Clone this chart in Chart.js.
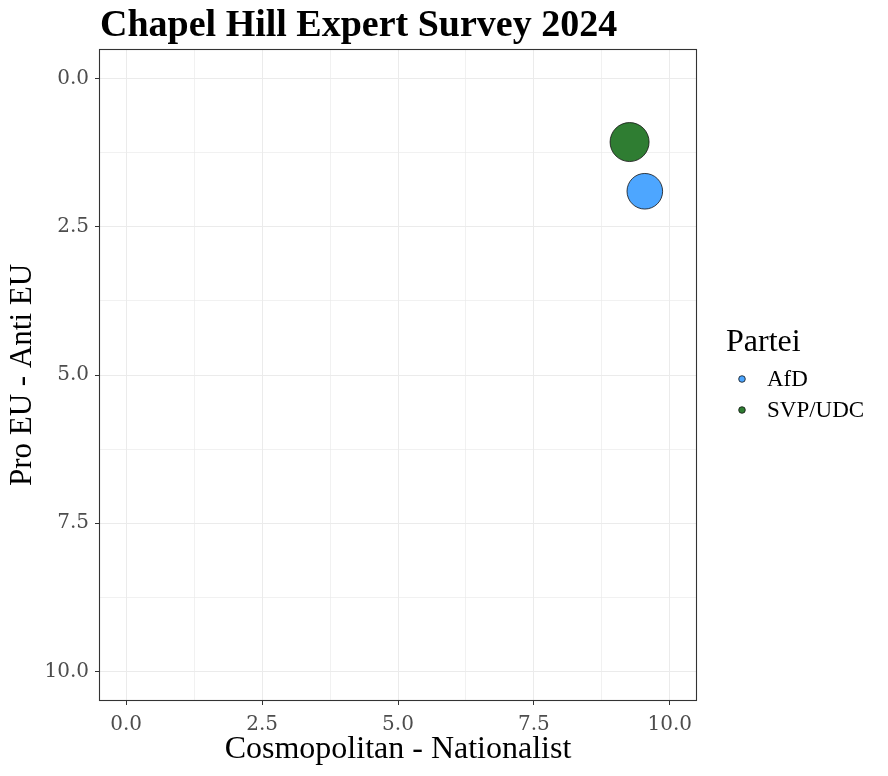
<!DOCTYPE html>
<html>
<head>
<meta charset="utf-8">
<script src="https://cdn.jsdelivr.net/npm/chart.js@4"></script>
<style>
  html, body { margin: 0; padding: 0; background: #fff; }
  #wrap { width: 888px; height: 776px; position: relative; }
</style>
</head>
<body>
<div id="wrap"><canvas id="chart" width="888" height="776"></canvas></div>
<script>
  // data
  const parteien = ["AfD", "SVP/UDC"];
  const nationalist = [9.54, 9.26];   // x: Cosmopolitan - Nationalist
  const antiEU = [1.9, 1.07];         // y: Pro EU - Anti EU
  const tickWerte = [0, 2.5, 5, 7.5, 10];
  const minorWerte = [1.25, 3.75, 6.25, 8.75];

  const farben = ["#4da6ff", "#2f7d32"];
  const radien = [17.8, 19.5];

  const SERIF = "'Liberation Serif', serif";
  const TICKFONT = "'DejaVu Serif', serif";

  function alleTicks(scale){
    const vals = tickWerte.concat(minorWerte).sort((a, b) => a - b);
    scale.ticks = vals.map(v => ({ value: v, major: tickWerte.includes(v) }));
  }

  function istMajor(ctx){
    return ctx.tick && tickWerte.includes(ctx.tick.value);
  }

  const datasets = parteien.map((p, i) => ({
    label: p,
    data: [{ x: nationalist[i], y: antiEU[i] }],
    backgroundColor: farben[i],
    borderColor: "#111",
    borderWidth: 0.8,
    pointRadius: radien[i],
    pointHoverRadius: radien[i]
  }));
  // SVP/UDC zuerst zeichnen
  datasets.reverse();

  const rahmenPlugin = {
    id: "rahmen",
    afterDatasetsDraw(chart){
      const { ctx, chartArea: a } = chart;
      ctx.save();
      ctx.strokeStyle = "#333";
      ctx.lineWidth = 1.1;
      ctx.strokeRect(a.left + 0.5, a.top + 0.5, a.right - a.left - 1, a.bottom - a.top - 1);
      ctx.restore();
    },
    afterDraw(chart){
      const { ctx, chartArea: a } = chart;
      ctx.save();
      // Titel
      ctx.fillStyle = "#000";
      ctx.font = "bold 38px " + SERIF;
      ctx.textBaseline = "alphabetic";
      ctx.textAlign = "left";
      ctx.fillText("Chapel Hill Expert Survey 2024", a.left + 1, 36);

      // Legende
      ctx.font = "32px " + SERIF;
      ctx.fillText("Partei", 726, 351);
      ctx.font = "23px " + SERIF;
      parteien.forEach((p, i) => {
        const y = 379 + i * 31;
        ctx.beginPath();
        ctx.arc(742, y, 3.3, 0, Math.PI * 2);
        ctx.fillStyle = farben[i];
        ctx.fill();
        ctx.strokeStyle = "#111";
        ctx.lineWidth = 0.8;
        ctx.stroke();
        ctx.fillStyle = "#000";
        ctx.textBaseline = "alphabetic";
        ctx.fillText(p, 767, y + 7);
      });
      ctx.restore();
    }
  };

  new Chart(document.getElementById("chart").getContext("2d"), {
    type: "scatter",
    data: { datasets },
    options: {
      responsive: false,
      animation: false,
      devicePixelRatio: 1,
      layout: { padding: { top: 49, right: 191, bottom: 0, left: 0 } },
      plugins: { legend: { display: false }, tooltip: { enabled: false } },
      scales: {
        x: {
          type: "linear",
          min: -0.5, max: 10.5,
          afterBuildTicks: alleTicks,
          afterFit(scale){ scale.height = 75; },
          border: { display: false },
          grid: {
            color: "#ebebeb",
            lineWidth: c => istMajor(c) ? 1 : 0.7,
            tickColor: c => istMajor(c) ? "#333" : "rgba(0,0,0,0)",
            tickLength: 4
          },
          ticks: {
            autoSkip: false,
            maxRotation: 0,
            padding: 8,
            color: "#4d4d4d",
            font: { family: TICKFONT, size: 20 },
            callback: v => tickWerte.includes(v) ? v.toFixed(1) : ""
          },
          title: {
            display: true,
            text: "Cosmopolitan - Nationalist",
            color: "#000",
            font: { family: SERIF, size: 32 },
            padding: { top: 0, bottom: 7 }
          }
        },
        y: {
          type: "linear",
          reverse: true,
          min: -0.5, max: 10.5,
          afterBuildTicks: alleTicks,
          afterFit(scale){ scale.width = 99; },
          border: { display: false },
          grid: {
            color: "#ebebeb",
            lineWidth: c => istMajor(c) ? 1 : 0.7,
            tickColor: c => istMajor(c) ? "#333" : "rgba(0,0,0,0)",
            tickLength: 4
          },
          ticks: {
            autoSkip: false,
            padding: 6,
            color: "#4d4d4d",
            font: { family: TICKFONT, size: 20 },
            callback: v => tickWerte.includes(v) ? v.toFixed(1) : ""
          },
          title: {
            display: true,
            text: "Pro EU - Anti EU",
            color: "#000",
            font: { family: SERIF, size: 31 },
            padding: { top: 4, bottom: 0 }
          }
        }
      }
    },
    plugins: [rahmenPlugin]
  });
</script>
</body>
</html>
